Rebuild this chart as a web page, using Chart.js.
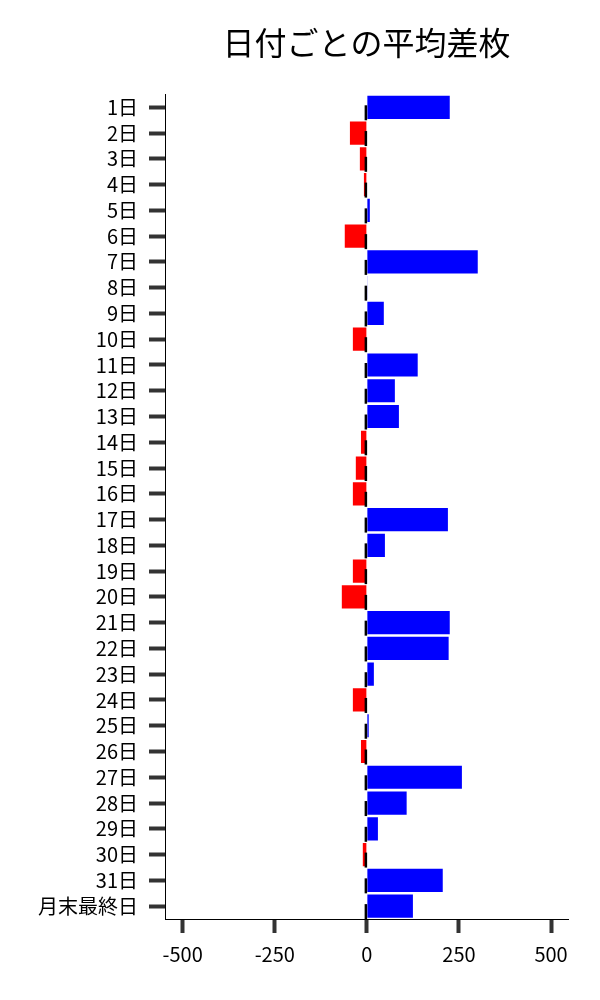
<!DOCTYPE html>
<html lang="ja">
  <head>
    <meta charset="UTF-8" />
    <title>日付ごとの平均差枚</title>
    <script src="https://cdn.jsdelivr.net/npm/chart.js@4.4.1/dist/chart.umd.min.js"></script>
    <style>
      body {
        margin: 0;
        background: #ffffff;
      }
      #wrap {
        width: 600px;
        height: 1000px;
      }
    </style>
  </head>
  <body>
    <div id="wrap">
      <canvas id="diffChart" width="600" height="1000"></canvas>
    </div>

    <script>
      const days = [
        "1日", "2日", "3日", "4日", "5日", "6日", "7日", "8日", "9日", "10日",
        "11日", "12日", "13日", "14日", "15日", "16日", "17日", "18日", "19日", "20日",
        "21日", "22日", "23日", "24日", "25日", "26日", "27日", "28日", "29日", "30日",
        "31日", "月末最終日",
      ];
      const avgDiff = [
        225, -46, -19, -8, 8, -60, 301, 1, 46, -38,
        138, 76, 87, -16, -30, -38, 220, 49, -38, -68,
        225, 222, 19, -38, 5, -16, 258, 108, 30, -11,
        206, 125,
      ];
      const xTicks = [-500, -250, 0, 250, 500];

      const font = "'Noto Sans CJK JP', 'Noto Sans', sans-serif";

      // small black marks at zero, like the error bars in the original
      const zeroMarks = {
        id: "zeroMarks",
        afterDatasetsDraw(chart) {
          const ctx = chart.ctx;
          const x0 = chart.scales.x.getPixelForValue(0) - 1;
          const meta = chart.getDatasetMeta(0);
          ctx.save();
          ctx.strokeStyle = "#000000";
          ctx.lineWidth = 2.5;
          meta.data.forEach((bar) => {
            ctx.beginPath();
            ctx.moveTo(x0, bar.y - 2);
            ctx.lineTo(x0, bar.y + 13);
            ctx.stroke();
          });
          ctx.restore();
        },
      };

      new Chart(document.getElementById("diffChart"), {
        type: "bar",
        data: {
          labels: days,
          datasets: [
            {
              label: "平均差枚",
              data: avgDiff,
              backgroundColor: avgDiff.map((v) => (v >= 0 ? "#0000ff" : "#ff0000")),
              borderWidth: 0,
              barPercentage: 0.9,
              categoryPercentage: 1.0,
            },
          ],
        },
        plugins: [zeroMarks],
        options: {
          indexAxis: "y",
          responsive: false,
          animation: false,
          devicePixelRatio: 1,
          layout: { padding: { left: 0, right: 32, top: 0, bottom: 0 } },
          plugins: {
            legend: { display: false },
            tooltip: { enabled: false },
            title: {
              display: true,
              fullSize: false,
              text: "日付ごとの平均差枚",
              color: "#000000",
              font: { family: font, size: 32, weight: "normal", lineHeight: 1.2 },
              padding: { top: 24, bottom: 32 },
            },
          },
          scales: {
            x: {
              min: -548,
              max: 546,
              afterBuildTicks: (scale) => {
                scale.ticks = xTicks.map((v) => ({ value: v }));
              },
              afterFit: (scale) => {
                scale.height = 81;
              },
              grid: {
                drawOnChartArea: false,
                drawTicks: true,
                tickLength: 14,
                tickWidth: 4,
                tickColor: "#333333",
              },
              border: { display: true, color: "#000000", width: 1 },
              ticks: {
                color: "#000000",
                padding: 9,
                font: { family: font, size: 20 },
              },
            },
            y: {
              afterFit: (scale) => {
                scale.width = 165;
              },
              grid: {
                offset: false,
                drawOnChartArea: false,
                drawTicks: true,
                tickLength: 16,
                tickWidth: 4,
                tickColor: "#333333",
              },
              border: { display: true, color: "#000000", width: 1 },
              ticks: {
                color: "#000000",
                padding: 11,
                autoSkip: false,
                font: { family: font, size: 20 },
              },
            },
          },
        },
      });
    </script>
  </body>
</html>
